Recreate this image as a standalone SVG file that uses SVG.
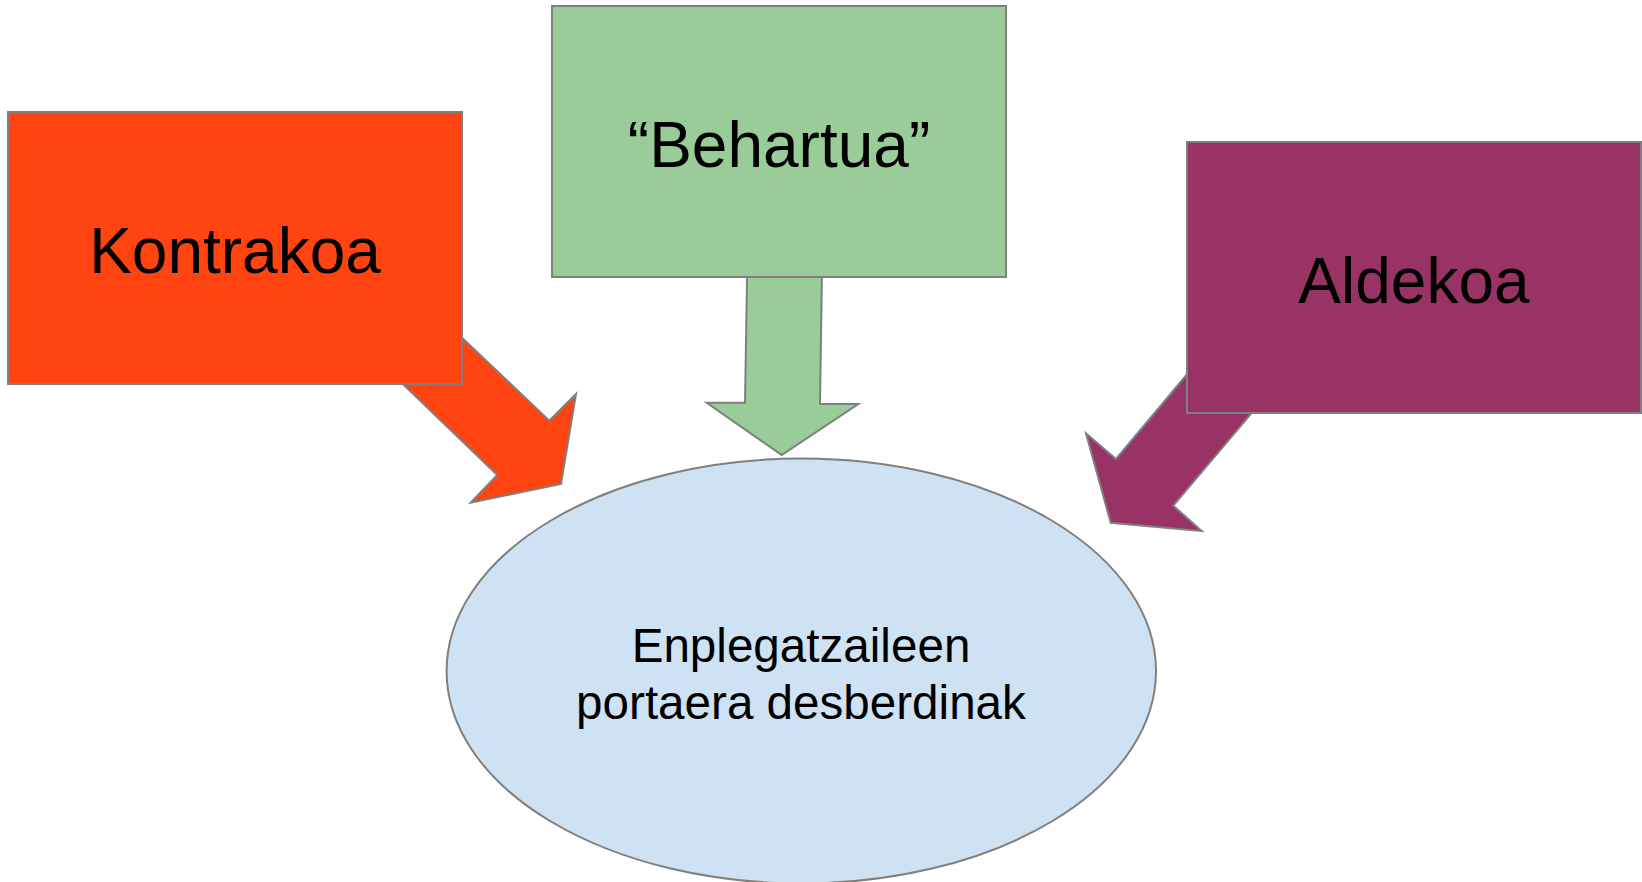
<svg xmlns="http://www.w3.org/2000/svg" width="1642" height="882" viewBox="0 0 1642 882">
<style>
.shape{stroke:#7f7f7f;stroke-width:2;stroke-linejoin:miter}
.big{font-family:"Liberation Sans",Arial,sans-serif;font-size:64px;fill:#000;text-anchor:middle}
.mid{font-family:"Liberation Sans",Arial,sans-serif;font-size:47.6px;fill:#000;text-anchor:middle}
</style>
<rect width="1642" height="882" fill="#ffffff"/>
<g id="connectors">
<polygon class="shape" fill="#ff4411" points="402,280.6 549.3,420.7 576,394 561,484 470.7,502.7 497.3,475 356,339"/>
<polygon class="shape" fill="#99cc99" points="747.5,250 745,402.7 706.7,402.7 781.7,455 858.3,404 820,404 822.3,250"/>
<polygon class="shape" fill="#993366" points="1236,316 1116,459 1086,433.3 1110.7,522.7 1201.7,531 1173.3,505.7 1288,370"/>
</g>
<g id="node-ellipse">
<ellipse class="shape" fill="#cfe2f3" cx="801.3" cy="671" rx="354.7" ry="212.5"/>
<text class="mid" x="801" y="662">Enplegatzaileen</text>
<text class="mid" x="801" y="719">portaera desberdinak</text>
</g>
<g id="node-kontrakoa">
<rect class="shape" fill="#ff4411" x="8" y="112" width="454" height="272"/>
<text class="big" x="235" y="273">Kontrakoa</text>
</g>
<g id="node-behartua">
<rect class="shape" fill="#99cc99" x="552" y="6" width="454" height="271"/>
<text class="big" x="779" y="167">“Behartua”</text>
</g>
<g id="node-aldekoa">
<rect class="shape" fill="#993366" x="1187" y="142" width="454" height="271"/>
<text class="big" x="1414" y="303">Aldekoa</text>
</g>
</svg>
